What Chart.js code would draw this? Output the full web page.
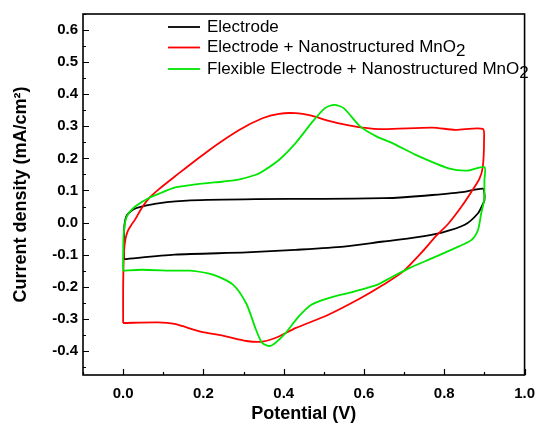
<!DOCTYPE html>
<html>
<head>
<meta charset="utf-8">
<script src="https://cdn.jsdelivr.net/npm/chart.js@4.4.0/dist/chart.umd.min.js"></script>
<style>
  html, body { margin: 0; padding: 0; background: #ffffff; }
  #wrap { width: 545px; height: 427px; }
</style>
</head>
<body>
<div id="wrap"><canvas id="cv" width="545" height="427"></canvas></div>
<script>
// Cyclic voltammograms: potential (V) vs current density (mA/cm²)
const seriesNames = [
  'Electrode',
  'Electrode + Nanostructured MnO',
  'Flexible Electrode + Nanostructured MnO'
];
const seriesSubscripts = ['', '2', '2'];
const seriesColors = ['#000000', '#ff0000', '#00e600'];

const electrodeV = [0.002, 0.002, 0.003, 0.006, 0.010, 0.026, 0.046, 0.087, 0.168, 0.331, 0.500, 0.648, 0.700, 0.770, 0.850, 0.896,
  0.900, 0.900, 0.897, 0.884, 0.851, 0.794, 0.729, 0.648, 0.550, 0.429, 0.307, 0.128, 0.002];
const electrodeJ = [-0.114, -0.060, -0.010, 0.012, 0.024, 0.042, 0.050, 0.060, 0.069, 0.073, 0.074, 0.076, 0.079, 0.086, 0.096, 0.106,
  0.090, 0.070, 0.060, 0.029, -0.007, -0.031, -0.046, -0.059, -0.075, -0.085, -0.093, -0.100, -0.114];

const mno2V = [0.000, 0.000, 0.002, 0.006, 0.012, 0.020, 0.030, 0.046, 0.063, 0.087, 0.128, 0.209, 0.290, 0.347, 0.388, 0.429, 0.469, 0.510,
  0.550, 0.591, 0.648, 0.770, 0.827, 0.896, 0.899, 0.896, 0.888, 0.868, 0.843, 0.811, 0.778, 0.746, 0.697, 0.648, 0.591, 0.510,
  0.429, 0.388, 0.347, 0.307, 0.250, 0.193, 0.128, 0.087, 0.000];
const mno2J = [-0.313, -0.200, -0.095, -0.050, -0.025, -0.008, 0.010, 0.045, 0.074, 0.102, 0.143, 0.221, 0.289, 0.325, 0.339, 0.341, 0.333, 0.318,
  0.306, 0.297, 0.291, 0.296, 0.289, 0.292, 0.258, 0.174, 0.138, 0.097, 0.050, -0.002, -0.044, -0.090, -0.153, -0.194, -0.236, -0.288,
  -0.329, -0.355, -0.371, -0.369, -0.353, -0.340, -0.316, -0.311, -0.313];

const flexV = [0.000, 0.000, 0.001, 0.006, 0.014, 0.030, 0.063, 0.095, 0.128, 0.168, 0.209, 0.250, 0.290, 0.331, 0.347, 0.388, 0.429,
  0.469, 0.502, 0.526, 0.550, 0.591, 0.632, 0.672, 0.729, 0.811, 0.859, 0.900, 0.900, 0.899, 0.892, 0.884, 0.868, 0.835, 0.770,
  0.713, 0.672, 0.632, 0.575, 0.510, 0.469, 0.437, 0.404, 0.368, 0.347, 0.331, 0.307, 0.274, 0.225, 0.168, 0.128, 0.046, 0.000];
const flexJ = [-0.150, -0.100, -0.044, 0.008, 0.029, 0.050, 0.076, 0.093, 0.109, 0.117, 0.123, 0.128, 0.135, 0.149, 0.159, 0.195, 0.247,
  0.310, 0.356, 0.367, 0.356, 0.299, 0.268, 0.247, 0.211, 0.169, 0.162, 0.173, 0.133, 0.070, 0.029, -0.023, -0.054, -0.075, -0.111,
  -0.142, -0.168, -0.194, -0.215, -0.236, -0.256, -0.293, -0.345, -0.384, -0.376, -0.334, -0.253, -0.194, -0.163, -0.150, -0.150, -0.147, -0.150];

const xTickValues = [0.0, 0.2, 0.4, 0.6, 0.8, 1.0];
const xMinorValues = [-0.1, 0.1, 0.3, 0.5, 0.7, 0.9];
const yTickValues = [-0.4, -0.3, -0.2, -0.1, 0.0, 0.1, 0.2, 0.3, 0.4, 0.5, 0.6];
const yMinorValues = [-0.45, -0.35, -0.25, -0.15, -0.05, 0.05, 0.15, 0.25, 0.35, 0.45, 0.55, 0.65];

const FONT = "'Liberation Sans', Arial, sans-serif";

function toPoints(xs, ys) { return xs.map((v, i) => ({ x: v, y: ys[i] })); }

// Frame around the plot plus inward-pointing tick marks on the bottom and left axes
const frameTicks = {
  id: 'frameTicks',
  afterDatasetsDraw(chart) {
    const { ctx, chartArea: a, scales: { x, y } } = chart;
    ctx.save();
    ctx.strokeStyle = '#000';
    ctx.lineWidth = 1.2;
    ctx.beginPath();
    xTickValues.forEach(v => { const p = Math.round(x.getPixelForValue(v)) + 0.5; ctx.moveTo(p, a.bottom); ctx.lineTo(p, a.bottom - 6); });
    xMinorValues.forEach(v => { const p = Math.round(x.getPixelForValue(v)) + 0.5; ctx.moveTo(p, a.bottom); ctx.lineTo(p, a.bottom - 3); });
    yTickValues.forEach(v => { const p = Math.round(y.getPixelForValue(v)) + 0.5; ctx.moveTo(a.left, p); ctx.lineTo(a.left + 6, p); });
    yMinorValues.forEach(v => { if (v > y.max || v < y.min) return; const p = Math.round(y.getPixelForValue(v)) + 0.5; ctx.moveTo(a.left, p); ctx.lineTo(a.left + 3, p); });
    ctx.stroke();
    ctx.lineWidth = 1.6;
    ctx.strokeRect(a.left, a.top, a.right - a.left, a.bottom - a.top);
    ctx.restore();
  }
};

// Legend drawn inside the plot, with lowered subscript digits
const insideLegend = {
  id: 'insideLegend',
  afterDraw(chart) {
    const { ctx } = chart;
    const rows = [27, 47.5, 69];
    ctx.save();
    ctx.font = '17px ' + FONT;
    ctx.textBaseline = 'middle';
    ctx.fillStyle = '#000';
    seriesNames.forEach((name, i) => {
      const yy = rows[i];
      ctx.strokeStyle = seriesColors[i];
      ctx.lineWidth = 1.8;
      ctx.beginPath();
      ctx.moveTo(168, yy);
      ctx.lineTo(200, yy);
      ctx.stroke();
      ctx.fillText(name, 207, yy);
      if (seriesSubscripts[i]) {
        const w = ctx.measureText(name).width;
        ctx.fillText(seriesSubscripts[i], 207 + w, yy + 4);
      }
    });
    ctx.restore();
  }
};

const mkSet = (i, xs, ys) => ({
  label: seriesNames[i] + seriesSubscripts[i],
  data: toPoints(xs, ys),
  borderColor: seriesColors[i],
  backgroundColor: seriesColors[i],
  borderWidth: 1.8,
  showLine: true,
  pointRadius: 0,
  tension: 0.25,
  fill: false
});

new Chart(document.getElementById('cv'), {
  type: 'scatter',
  data: {
    datasets: [
      mkSet(2, flexV, flexJ),
      mkSet(1, mno2V, mno2J),
      mkSet(0, electrodeV, electrodeJ)
    ]
  },
  options: {
    responsive: false,
    animation: false,
    devicePixelRatio: 1,
    layout: { padding: { top: 13, right: 11, left: 0, bottom: 0 } },
    plugins: { legend: { display: false }, tooltip: { enabled: false } },
    scales: {
      x: {
        type: 'linear',
        min: -0.1,
        max: 1.0,
        afterBuildTicks: s => { s.ticks = xTickValues.map(v => ({ value: v })); },
        afterFit: s => { s.height = 52; },
        grid: { display: false, drawTicks: false },
        border: { display: false },
        ticks: {
          padding: 10,
          color: '#000',
          font: { family: FONT, size: 15, weight: 'bold' },
          callback: v => Number(v).toFixed(1)
        },
        title: {
          display: true,
          text: 'Potential (V)',
          color: '#000',
          font: { family: FONT, size: 18, weight: 'bold' },
          padding: { top: 0, bottom: 2 }
        }
      },
      y: {
        type: 'linear',
        min: -0.475,
        max: 0.65,
        afterBuildTicks: s => { s.ticks = yTickValues.map(v => ({ value: v })); },
        afterFit: s => { s.width = 83; },
        grid: { display: false, drawTicks: false },
        border: { display: false },
        ticks: {
          padding: 5,
          color: '#000',
          font: { family: FONT, size: 15, weight: 'bold' },
          callback: v => Number(v).toFixed(1)
        },
        title: {
          display: true,
          text: 'Current density (mA/cm²)',
          color: '#000',
          font: { family: FONT, size: 18, weight: 'bold' },
          padding: { top: 10, bottom: 0 }
        }
      }
    }
  },
  plugins: [frameTicks, insideLegend]
});
</script>
</body>
</html>
